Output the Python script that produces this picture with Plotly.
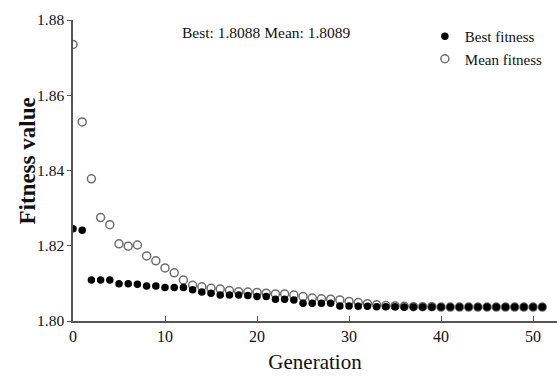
import plotly.graph_objects as go

generations = list(range(52))

best_fitness = [
    1.8245, 1.8241, 1.8109, 1.8109, 1.8109, 1.8099, 1.8099, 1.8098, 1.8093, 1.8093,
    1.8089, 1.8089, 1.8089, 1.8083, 1.8077, 1.8074, 1.8069, 1.8069, 1.8069, 1.8068,
    1.8065, 1.8065, 1.8058, 1.8058, 1.8056, 1.8047, 1.8047, 1.8047, 1.8047, 1.8040,
    1.8040, 1.8039, 1.8039, 1.8038, 1.8038, 1.8038, 1.8037, 1.8037, 1.8037, 1.8037,
    1.8037, 1.8037, 1.8037, 1.8037, 1.8037, 1.8037, 1.8037, 1.8037, 1.8037, 1.8037,
    1.8037, 1.8037,
]

mean_fitness = [
    1.8735, 1.8529, 1.8378, 1.8275, 1.8256, 1.8205, 1.8199, 1.8202, 1.8173, 1.8160,
    1.8141, 1.8128, 1.8109, 1.8095, 1.8091, 1.8087, 1.8085, 1.8081, 1.8078, 1.8077,
    1.8076, 1.8074, 1.8072, 1.8072, 1.8069, 1.8065, 1.8061, 1.8059, 1.8058, 1.8056,
    1.8052, 1.8049, 1.8046, 1.8043, 1.8041, 1.8040, 1.8039, 1.8038, 1.8038, 1.8038,
    1.8037, 1.8037, 1.8037, 1.8037, 1.8037, 1.8037, 1.8037, 1.8037, 1.8037, 1.8037,
    1.8037, 1.8037,
]

x_ticks = [0, 10, 20, 30, 40, 50]
y_ticks = [1.80, 1.82, 1.84, 1.86, 1.88]
y_tick_labels = ["1.80", "1.82", "1.84", "1.86", "1.88"]

font_family = "Liberation Serif, Times New Roman, serif"

fig = go.Figure()
fig.add_trace(go.Scatter(
    x=generations, y=mean_fitness, mode="markers", name="Mean fitness",
    marker=dict(symbol="circle-open", size=8, color="#6e6e6e", line=dict(width=1.5, color="#6e6e6e")),
))
fig.add_trace(go.Scatter(
    x=generations, y=best_fitness, mode="markers", name="Best fitness",
    marker=dict(symbol="circle", size=7.5, color="#000000"),
))

fig.update_layout(
    width=557, height=379,
    margin=dict(l=73, r=0, t=20, b=58),
    paper_bgcolor="white", plot_bgcolor="white",
    font=dict(family=font_family, color="#111111", size=15),
    showlegend=True,
    legend=dict(
        x=0.727, y=1.0, xanchor="left", yanchor="top",
        traceorder="reversed",
        font=dict(family=font_family, size=15, color="#111111"),
        bgcolor="rgba(255,255,255,0)", borderwidth=0,
        itemwidth=30, tracegroupgap=0,
    ),
    annotations=[
        dict(
            text="Best: 1.8088 Mean: 1.8089", x=0.399, y=0.957, xref="paper", yref="paper",
            xanchor="center", yanchor="middle", showarrow=False,
            font=dict(family=font_family, size=15.5, color="#111111"),
        ),
        dict(
            text="<b>Fitness value</b>", x=-0.095, y=0.53, xref="paper", yref="paper",
            xanchor="center", yanchor="middle", showarrow=False, textangle=-90,
            font=dict(family=font_family, size=23, color="#111111"),
        ),
    ],
)

fig.update_xaxes(
    range=[0, 52.6], tickvals=x_ticks, ticks="inside", ticklen=5, tickcolor="#555555",
    showline=True, linecolor="#555555", linewidth=1.5, showgrid=False, zeroline=False,
    tickfont=dict(family=font_family, size=16),
    title=dict(text="Generation", font=dict(family=font_family, size=21), standoff=10),
)
fig.update_yaxes(
    range=[1.80, 1.88], tickvals=y_ticks, ticktext=y_tick_labels, ticks="outside", ticklen=4,
    tickcolor="#555555",
    showline=True, linecolor="#555555", linewidth=1.5, showgrid=False, zeroline=False,
    tickfont=dict(family=font_family, size=15.5),
)

fig.write_html(
    "out.html",
    config={"displayModeBar": False},
    post_script="document.body.style.margin='0';document.body.style.padding='0';",
)
